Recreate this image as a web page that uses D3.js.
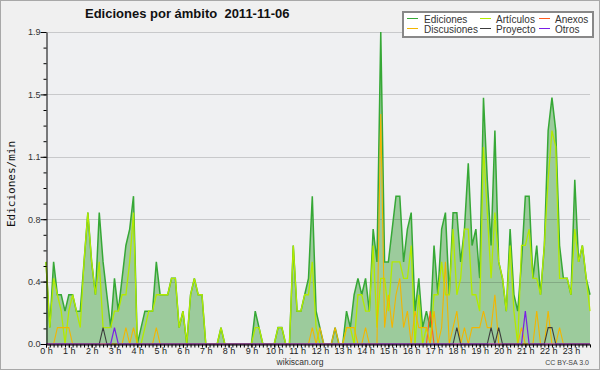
<!DOCTYPE html>
<html>
<head>
<meta charset="utf-8">
<script src="https://cdn.jsdelivr.net/npm/d3@7/dist/d3.min.js"></script>
<style>
body { margin: 0; background: #fff; }
svg { display: block; font-family: "Liberation Sans", Arial, sans-serif; }
</style>
</head>
<body>
<script>
// datos: ediciones/min en intervalos de 10 minutos (144 puntos)
var titulo = "Ediciones por ámbito  2011-11-06";
var horas = ["0 h","1 h","2 h","3 h","4 h","5 h","6 h","7 h","8 h","9 h","10 h","11 h",
             "12 h","13 h","14 h","15 h","16 h","17 h","18 h","19 h","20 h","21 h","22 h","23 h"];
var ediciones = [
  0.5,0.1,0.5,0.3,0.3,0.2,0.3,0.3,0.2,0.2,
  0.5,0.8,0.5,0.3,0.8,0.5,0.3,0.1,0.4,0.2,
  0.4,0.6,0.7,0.9,0,0.1,0.2,0.2,0.2,0.5,
  0.3,0.3,0.3,0.4,0.4,0.1,0.2,0,0.3,0.4,
  0.3,0.3,0,0,0,0,0.1,0,0,0,
  0,0,0,0,0,0.2,0.1,0,0,0,
  0,0.1,0.1,0,0,0.6,0.2,0.2,0.3,0.4,
  0.9,0.2,0.1,0,0,0,0.1,0,0,0.2,
  0.1,0.3,0.4,0.3,0.4,0.2,0.7,0.5,1.9,0.5,
  0.5,0.7,0.9,0.9,0.5,0.7,0.8,0.2,0.4,0.1,
  0.2,0.1,0.6,0.3,0.7,0.8,0.3,0.8,0.8,0.5,
  0.7,1.1,0.6,0.7,0.4,1.5,1.0,0.6,1.3,0.5,
  0.4,0.2,0.7,0.3,0.2,0.5,0.9,0.9,0.4,0.6,
  0.3,0.6,1.3,1.5,1.3,0.6,0.4,0.4,0.3,1.0,
  0.5,0.6,0.4,0.3];
var articulos = [
  0.5,0.1,0.4,0.3,0.2,0,0.2,0.3,0.2,0.1,
  0.5,0.8,0.5,0.3,0.5,0.1,0.1,0.1,0.2,0.2,
  0.3,0.3,0.5,0.8,0,0,0.1,0.2,0.2,0.3,
  0.3,0.3,0.3,0.4,0.4,0.1,0.2,0,0.3,0.4,
  0.3,0.3,0,0,0,0,0.1,0,0,0,
  0,0,0,0,0,0.1,0.1,0,0,0,
  0,0.1,0.1,0,0,0.6,0.2,0.2,0.3,0.3,
  0.5,0.1,0,0,0,0,0,0,0,0.1,
  0.1,0,0.3,0.3,0.2,0.2,0.6,0.1,0.4,0.4,
  0.2,0.5,0.5,0.5,0.4,0.4,0.6,0,0.3,0,
  0.1,0,0.3,0.3,0.5,0.3,0.3,0.7,0.3,0.4,
  0.7,0.7,0.3,0.3,0.2,1.2,0.8,0.4,0.8,0.5,
  0.4,0.2,0.6,0.2,0,0.6,0.6,0.7,0.4,0.4,
  0.3,0.6,1.0,1.3,1.2,0.4,0.4,0.4,0.3,0.7,
  0.5,0.6,0.4,0.2];
var anexos = [
  0,0,0,0,0,0,0,0,0,0, 0,0,0,0,0,0,0,0,0,0,
  0,0,0,0,0,0,0,0,0,0, 0,0,0,0,0,0,0,0,0,0,
  0,0,0,0,0,0,0,0,0,0, 0,0,0,0,0,0,0,0,0,0,
  0,0,0,0,0,0,0,0,0,0, 0,0,0,0,0,0,0,0,0,0,
  0,0,0,0,0,0,0,0,0,0, 0,0,0,0,0,0,0,0,0,0,
  0,0.2,0,0,0,0,0,0,0,0, 0,0,0,0,0,0,0,0,0,0,
  0,0,0,0,0,0,0,0,0,0, 0,0,0,0,0,0,0,0,0,0,
  0,0,0,0];
var discusiones = [
  0,0,0,0.1,0.1,0.1,0.1,0,0,0,
  0,0,0,0,0,0,0,0,0,0,
  0,0.1,0,0.1,0,0,0,0,0,0.1,
  0,0,0,0,0,0,0,0,0,0,
  0,0,0,0,0,0,0,0,0,0,
  0,0,0,0,0,0,0,0,0,0,
  0,0,0,0,0,0,0,0,0,0,
  0.1,0,0.1,0,0,0,0.1,0,0,0.1,
  0.1,0.1,0,0,0.1,0,0,0,1.4,0.1,
  0.3,0.1,0.3,0.4,0.1,0.2,0,0.2,0.1,0.1,
  0.1,0,0.2,0,0.1,0.5,0,0.1,0.2,0,
  0.1,0,0.1,0.1,0.1,0.2,0.1,0.1,0.3,0,
  0,0,0,0,0,0.1,0,0,0,0.2,
  0,0,0.2,0,0,0.1,0,0,0,0,
  0,0,0,0];
var proyecto = [
  0,0,0,0,0,0,0,0,0,0, 0,0,0,0,0,0.1,0,0,0,0,
  0,0,0,0,0,0,0,0,0,0, 0,0,0,0,0,0,0,0,0,0,
  0,0,0,0,0,0,0,0,0,0, 0,0,0,0,0,0,0,0,0,0,
  0,0,0,0,0,0,0,0,0,0, 0,0,0,0,0,0,0,0,0,0,
  0,0,0,0,0,0,0,0,0,0, 0,0,0,0,0,0,0,0,0,0,
  0,0,0,0,0,0,0,0,0.1,0, 0,0,0,0,0,0,0,0.1,0,0.1,
  0,0,0,0,0,0,0,0,0,0, 0,0,0.1,0.1,0,0,0,0,0,0,
  0,0,0,0];
var otros = [
  0,0,0,0,0,0,0,0,0,0, 0,0,0,0,0,0,0,0,0.1,0,
  0,0,0,0,0,0,0,0,0,0, 0,0,0,0,0,0,0,0,0,0,
  0,0,0,0,0,0,0,0,0,0, 0,0,0,0,0,0,0,0,0,0,
  0,0,0,0,0,0,0,0,0,0, 0,0,0,0,0,0,0,0,0,0,
  0,0,0,0,0,0,0,0,0,0, 0,0,0,0,0,0,0,0,0,0,
  0,0,0,0,0,0,0,0,0,0, 0,0,0,0,0,0,0,0,0,0,
  0,0,0,0,0,0,0.2,0,0,0, 0,0,0,0,0,0,0,0,0,0,
  0,0,0,0];
var leyenda = ["Ediciones","Artículos","Anexos","Discusiones","Proyecto","Otros"];
var colores = ["#36a836","#b2ea00","#ff5a1e","#f2b600","#3c3c3c","#7a1ee6"];

var W = 600, H = 370;
var svg = d3.select("body").append("svg").attr("width", W).attr("height", H);

// fondo y marco
svg.append("rect").attr("x", 0.5).attr("y", 0.5).attr("width", W - 1).attr("height", H - 1)
    .attr("fill", "#f0f0f0").attr("stroke", "#a8a8a8");

// escalas: minutos del día, ediciones/min
var x = d3.scaleLinear().domain([0, 1430]).range([46, 590]);
var y = d3.scaleLinear().domain([0, 1.9]).range([344, 32]);
var mayores = [0, 0.38, 0.76, 1.14, 1.52, 1.9];
var menores = [];
for (var i = 0; i < 20; i++) menores.push(i * 0.095);
var minutos = [];
for (var m = 0; m <= 1430; m += 10) minutos.push(m);

svg.append("rect").attr("x", 46).attr("y", 32).attr("width", 544).attr("height", 312).attr("fill", "#eff0f2");

var area = d3.area()
    .x(function (d, i) { return x(i * 10); })
    .y0(y(0))
    .y1(function (d) { return y(d); });
svg.append("path").datum(ediciones).attr("d", area).attr("fill", "#9ccb9c");

// lineas de la rejilla encima del relleno
svg.selectAll(".grid").data(mayores.slice(1)).enter().append("line")
    .attr("class", "grid")
    .attr("x1", 46).attr("x2", 590)
    .attr("y1", function (d) { return Math.round(y(d)) + 0.5; })
    .attr("y2", function (d) { return Math.round(y(d)) + 0.5; })
    .attr("stroke", "#000").attr("stroke-opacity", 0.16);

var linea = d3.line()
    .x(function (d, i) { return x(i * 10); })
    .y(function (d) { return y(d); });
var series = [ediciones, articulos, anexos, discusiones, proyecto, otros];
var anchos = [1.5, 1.3, 1.1, 1.1, 1.1, 1.2];
series.forEach(function (s, k) {
    svg.append("path").datum(s).attr("d", linea)
        .attr("fill", "none")
        .attr("stroke", colores[k])
        .attr("stroke-width", anchos[k])
        .attr("stroke-linejoin", "miter");
});

// eje x
svg.append("g")
    .attr("transform", "translate(0,344.5)")
    .call(d3.axisBottom(x).tickValues(minutos).tickSize(3).tickSizeOuter(0).tickFormat(""))
    .call(function (g) { g.selectAll("line,path").attr("stroke", "#000"); });
svg.append("g")
    .attr("transform", "translate(0,344.5)")
    .call(d3.axisBottom(x).tickValues(horas.map(function (h, i) { return i * 60; }))
        .tickSize(3).tickPadding(0).tickSizeOuter(0)
        .tickFormat(function (d, i) { return horas[i]; }))
    .call(function (g) {
        g.select(".domain").remove();
        g.selectAll("line").attr("stroke", "#000");
        g.selectAll("text").attr("font-size", 9).attr("fill", "#222")
            .attr("font-family", "'Liberation Sans', Arial, sans-serif");
    });

// eje y
svg.append("g")
    .attr("transform", "translate(46.5,0)")
    .call(d3.axisLeft(y).tickValues(menores).tickSize(3).tickSizeOuter(0).tickFormat(""))
    .call(function (g) { g.selectAll("line,path").attr("stroke", "#000"); });
svg.append("g")
    .attr("transform", "translate(46.5,0)")
    .call(d3.axisLeft(y).tickValues(mayores).tickSize(6).tickPadding(0).tickSizeOuter(0)
        .tickFormat(d3.format(".1f")))
    .call(function (g) {
        g.select(".domain").remove();
        g.selectAll("line").attr("stroke", "#000");
        g.selectAll("text").attr("font-size", 9).attr("fill", "#333")
            .attr("font-family", "'Liberation Sans', Arial, sans-serif");
    });

svg.append("text")
    .attr("transform", "translate(15,184) rotate(-90)")
    .attr("text-anchor", "middle")
    .attr("font-family", "'DejaVu Sans Mono', monospace")
    .attr("font-size", 11)
    .attr("fill", "#111")
    .text("Ediciones/min");

// titulo (dos espacios antes de la fecha)
svg.append("text")
    .attr("x", 85).attr("y", 18)
    .attr("font-size", 13).attr("font-weight", "bold").attr("fill", "#111")
    .style("white-space", "pre")
    .text(titulo);

// leyenda
svg.append("rect").attr("x", 403).attr("y", 12).attr("width", 190).attr("height", 25)
    .attr("fill", "#fff").attr("stroke", "#888").attr("stroke-width", 2);
var colX = [407, 480, 539], txtX = [424, 496, 555], filaY = [18.5, 28.5], filaT = [22.5, 32.5];
leyenda.forEach(function (nombre, k) {
    var c = k % 3, f = Math.floor(k / 3);
    svg.append("line")
        .attr("x1", colX[c]).attr("x2", colX[c] + 11)
        .attr("y1", filaY[f]).attr("y2", filaY[f])
        .attr("stroke", colores[k]).attr("stroke-width", 1);
    svg.append("text")
        .attr("x", txtX[c]).attr("y", filaT[f])
        .attr("font-size", 10).attr("fill", "#333")
        .text(nombre);
});

// pie
svg.append("text").attr("x", 300).attr("y", 365).attr("text-anchor", "middle")
    .attr("font-size", 8.5).attr("fill", "#333").text("wikiscan.org");
svg.append("text").attr("x", 589).attr("y", 365).attr("text-anchor", "end")
    .attr("font-size", 7).attr("fill", "#444").text("CC BY-SA 3.0");
</script>
</body>
</html>
